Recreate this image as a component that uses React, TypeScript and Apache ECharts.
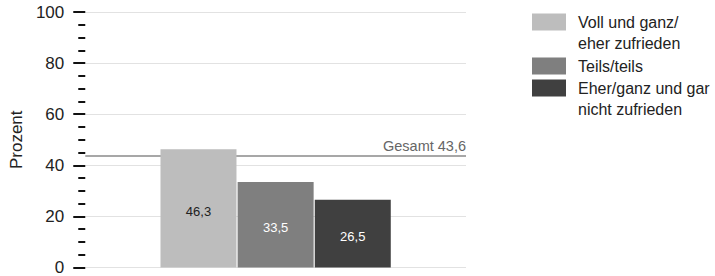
import React, { useEffect, useRef } from "react";
import * as echarts from "echarts";

const categories = ["Gesamt"];
const seriesNames = ["Voll und ganz/ eher zufrieden", "Teils/teils", "Eher/ganz und gar nicht zufrieden"];
const legendLabels = ["\nVoll und ganz/\neher zufrieden", "Teils/teils", "\nEher/ganz und gar\nnicht zufrieden"];
const seriesValues = [46.3, 33.5, 26.5];
const seriesColors = ["#bdbdbd", "#7f7f7f", "#404040"];
const labelColors = ["#222222", "#ffffff", "#ffffff"];
const totalValue = 43.6;
const totalLabel = "Gesamt 43,6";
const yTicks = [0, 20, 40, 60, 80, 100];

const FONT = "'Liberation Sans', Arial, sans-serif";

export default function App() {
  const ref = useRef<HTMLDivElement>(null);
  useEffect(() => {
    if (!ref.current) return;
    const chart = echarts.init(ref.current, null, { renderer: "svg" });
    const fmt = (v: number) => v.toFixed(1).replace(".", ",");
    const legendTops = [-9.5, 55.5, 56.5];
    const barSeries = seriesNames.map((n, i) => ({
      type: "bar",
      name: n,
      data: [seriesValues[i]],
      barWidth: 76,
      barGap: "1.5%",
      z: 10,
      itemStyle: { color: seriesColors[i] },
      label: {
        show: true,
        position: "inside",
        offset: [0, 3],
        formatter: (p: any) => fmt(p.value),
        color: labelColors[i],
        fontSize: 13,
        fontFamily: FONT,
      },
    }));
    chart.setOption({
      animation: false,
      textStyle: { fontFamily: FONT },
      grid: { left: 81, top: 12, width: 385, height: 256 },
      legend: seriesNames.map((n, i) => ({
        left: 532,
        top: legendTops[i],
        padding: 0,
        itemWidth: 34,
        itemHeight: 17,
        icon: "rect",
        selectedMode: false,
        data: [n],
        formatter: () => legendLabels[i],
        textStyle: {
          fontSize: 16,
          lineHeight: 21,
          color: "#222",
          fontFamily: FONT,
          padding: [0, 0, 0, 7],
        },
      })),
      xAxis: [
        { type: "category", data: categories, show: false },
        { type: "value", min: 0, max: 1, show: false },
      ],
      yAxis: {
        type: "value",
        min: yTicks[0],
        max: yTicks[yTicks.length - 1],
        interval: 20,
        name: "Prozent",
        nameLocation: "middle",
        nameGap: 60,
        nameTextStyle: { fontSize: 17, color: "#222", fontFamily: FONT },
        axisLine: { show: false },
        axisTick: { show: true, length: 12, lineStyle: { color: "#111", width: 2 } },
        minorTick: { show: true, splitNumber: 4, length: 7, lineStyle: { color: "#111", width: 2 } },
        axisLabel: { fontSize: 17, color: "#222", margin: 21, fontFamily: FONT },
        splitLine: { show: true, lineStyle: { color: "#e2e2e2", width: 1 } },
      },
      series: [
        {
          type: "line",
          name: "Gesamt",
          xAxisIndex: 1,
          z: 1,
          symbol: "none",
          data: [
            [0, totalValue],
            [1, totalValue],
          ],
          lineStyle: { color: "#8a8a8a", width: 1.5 },
          endLabel: {
            show: true,
            formatter: totalLabel,
            color: "#666",
            fontSize: 14.5,
            fontFamily: FONT,
            align: "right",
            verticalAlign: "bottom",
            distance: 0,
            offset: [0, -3],
          },
        },
        ...barSeries,
      ],
    });
    return () => chart.dispose();
  }, []);
  return <div ref={ref} style={{ width: 715, height: 276, position: "absolute", left: 0, top: 0 }} />;
}
